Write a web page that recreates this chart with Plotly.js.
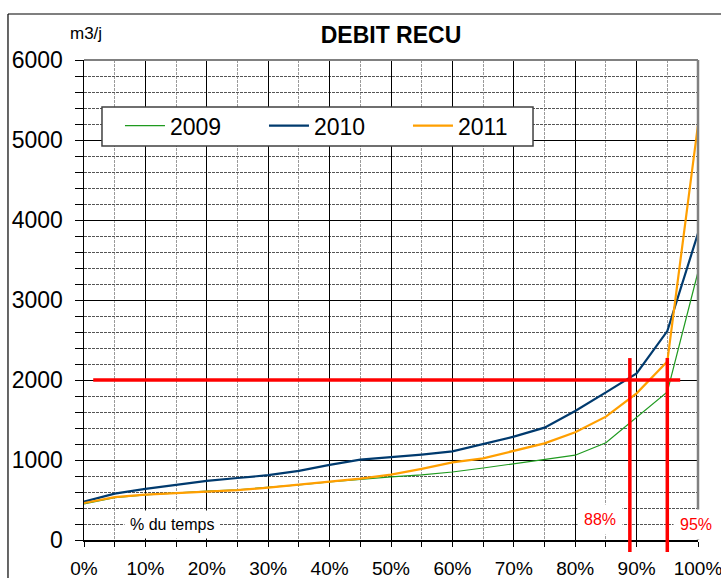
<!DOCTYPE html>
<html>
<head>
<meta charset="utf-8">
<script src="https://cdn.plot.ly/plotly-3.0.1.min.js"></script>
<style>html,body{margin:0;padding:0;background:#fff;}#chart{width:721px;height:578px;}</style>
</head>
<body>
<div id="chart"></div>
<script>
// Data
var pct = [0, 5, 10, 15, 20, 25, 30, 35, 40, 45, 50, 55, 60, 65, 70, 75, 80, 85, 90, 95, 100];
var y2009 = [450, 530, 565, 590, 612, 628, 655, 690, 725, 760, 790, 815, 850, 900, 955, 1010, 1060, 1215, 1530, 1850, 3350];
var y2010 = [480, 580, 640, 690, 740, 775, 810, 865, 940, 1005, 1035, 1068, 1108, 1200, 1292, 1404, 1612, 1846, 2083, 2612, 3833];
var y2011 = [462, 535, 567, 587, 604, 623, 655, 696, 729, 767, 817, 890, 971, 1021, 1117, 1208, 1346, 1542, 1833, 2230, 5190];
var seriesNames = ['2009', '2010', '2011'];
var threshold = 2000;
var pctMarks = [88.9, 95];
var pctLabels = ['88%', '95%'];

var FONT = 'Liberation Sans, Arial, sans-serif';

var traces = [
  {x: pct, y: y2009, name: seriesNames[0], mode: 'lines', line: {color: '#1f9a1f', width: 1.2}},
  {x: pct, y: y2010, name: seriesNames[1], mode: 'lines', line: {color: '#003a6e', width: 2.2}},
  {x: pct, y: y2011, name: seriesNames[2], mode: 'lines', line: {color: '#ff9f00', width: 2.2}}
];

var shapes = [
  // outer frame (left and top edges)
  {type: 'line', xref: 'paper', yref: 'paper', x0: -0.1238, x1: 1.2, y0: 1.0958, y1: 1.0958, line: {color: '#000', width: 1.2}},
  {type: 'line', xref: 'paper', yref: 'paper', x0: -0.1238, x1: -0.1238, y0: -0.3, y1: 1.0958, line: {color: '#000', width: 1.2}},
  // plot top/right border (gray)
  {type: 'line', xref: 'paper', yref: 'paper', x0: 0, x1: 1, y0: 1, y1: 1, line: {color: '#808080', width: 2}},
  {type: 'line', xref: 'paper', yref: 'paper', x0: 1, x1: 1, y0: 0, y1: 1, line: {color: '#808080', width: 2.5}},
  // legend box
  {type: 'rect', xref: 'paper', yref: 'paper', x0: 0.0293, x1: 0.7313, y0: 0.8208, y1: 0.9021,
   fillcolor: '#fff', line: {color: '#404040', width: 1.5}, layer: 'above'},
  // threshold line
  {type: 'line', xref: 'x', yref: 'y', x0: 1.5, x1: 97.1, y0: threshold, y1: threshold, line: {color: '#ff0000', width: 3.5}}
];
pctMarks.forEach(function (p) {
  shapes.push({type: 'line', xref: 'x', yref: 'paper', x0: p, x1: p, y0: -0.025, y1: 0.379,
    line: {color: '#ff0000', width: 3.5}});
});

var annotations = [
  {text: 'm3/j', xref: 'paper', yref: 'paper', x: 0.003, y: 1.056, xanchor: 'center', yanchor: 'middle', showarrow: false,
   font: {family: FONT, size: 17, color: '#000'}},
  {text: '% du temps', xref: 'x', yref: 'y', x: 14.3, y: 200, showarrow: false, bgcolor: '#fff', borderpad: 5,
   font: {family: FONT, size: 16, color: '#000'}},
  {text: pctLabels[0], xref: 'x', yref: 'y', x: 84.0, y: 262, showarrow: false, bgcolor: '#fff', borderpad: 6,
   font: {family: FONT, size: 16, color: '#ff0000'}},
  {text: pctLabels[1], xref: 'x', yref: 'y', x: 99.7, y: 200, showarrow: false, bgcolor: '#fff', borderpad: 6,
   font: {family: FONT, size: 16, color: '#ff0000'}}
];

var layout = {
  width: 721, height: 578,
  margin: {l: 84, r: 23, t: 60, b: 38},
  paper_bgcolor: '#fff', plot_bgcolor: '#fff',
  font: {family: FONT, color: '#000'},
  title: {text: '<b>DEBIT RECU</b>', x: 0.5, xref: 'paper', xanchor: 'center', y: 1 - 35 / 578, yref: 'container', yanchor: 'middle',
    font: {size: 23, color: '#000', family: FONT}},
  showlegend: true,
  legend: {orientation: 'h', x: 0.0586, y: 0.908, xanchor: 'left', yanchor: 'top', bgcolor: 'rgba(0,0,0,0)',
    borderwidth: 0, font: {size: 23, color: '#000'}, entrywidth: 89, itemwidth: 40},
  xaxis: {
    range: [0, 100], dtick: 10, tick0: 0, ticksuffix: '%', showline: true, linecolor: '#000', linewidth: 1.5,
    ticks: 'outside', ticklen: 5, tickcolor: '#000', showgrid: true, gridcolor: '#000', gridwidth: 1,
    zeroline: false, tickfont: {size: 19, color: '#000'}, ticklabelstandoff: 6, ticklabeloverflow: 'allow',
    minor: {dtick: 5, showgrid: true, gridcolor: '#9a9a9a', griddash: '3px,1px', gridwidth: 1, ticks: 'outside', ticklen: 5, tickcolor: '#000'},
    fixedrange: true
  },
  yaxis: {
    range: [0, 6000], dtick: 1000, tick0: 0, showline: true, linecolor: '#000', linewidth: 1.5,
    ticks: 'outside', ticklen: 8, tickcolor: '#000', showgrid: true, gridcolor: '#000', gridwidth: 1,
    zeroline: false, tickfont: {size: 23, color: '#000'}, ticklabelstandoff: 7,
    minor: {dtick: 200, showgrid: true, gridcolor: '#555', griddash: '3px,1px', gridwidth: 1, ticks: 'outside', ticklen: 8, tickcolor: '#000'},
    fixedrange: true
  },
  shapes: shapes,
  annotations: annotations
};

Plotly.newPlot('chart', traces, layout, {displayModeBar: false, staticPlot: true});
</script>
</body>
</html>
